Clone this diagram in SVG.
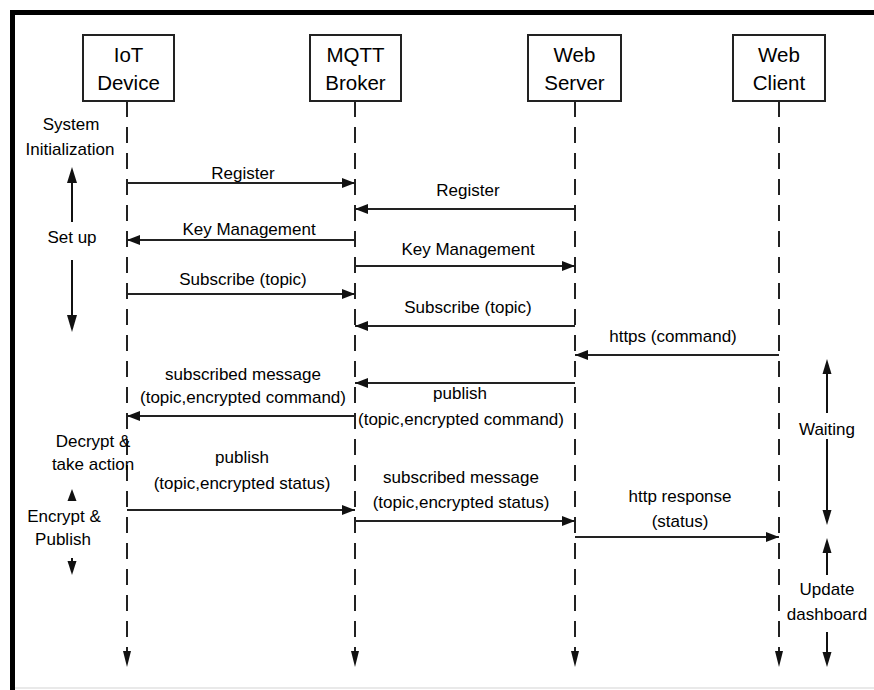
<svg xmlns="http://www.w3.org/2000/svg" width="874" height="690" viewBox="0 0 874 690">
  <style>
    text { font-family: "Liberation Sans", Arial, sans-serif; fill: #000; text-anchor: middle; }
    .node-label { font-size: 20.5px; }
    .label { font-size: 17px; }
    .box { fill: #fff; stroke: #222; stroke-width: 2; }
    .lifeline { fill: none; stroke: #222; stroke-width: 2; stroke-dasharray: 16 10; }
    .msg { fill: none; stroke: #222; stroke-width: 2; marker-end: url(#head); }
    .phase { fill: none; stroke: #111; stroke-width: 2; }
    .tri { fill: #111; }
  </style>
  <defs>
    <marker id="head" viewBox="0 0 13 10" refX="13" refY="5" markerWidth="13" markerHeight="10" markerUnits="userSpaceOnUse" orient="auto">
      <path d="M0,0 L13,5 L0,10 z" fill="#111"/>
    </marker>
  </defs>

  <!-- page background and frame -->
  <rect x="0" y="0" width="874" height="690" fill="#fff"/>
  <rect x="10" y="10" width="864" height="5" fill="#000"/>
  <rect x="10" y="10" width="5" height="680" fill="#000"/>
  <line x1="15" y1="688" x2="874" y2="688" stroke="#e2e2e2" stroke-width="1.5"/>

  <!-- lifelines -->
  <g id="lifelines">
    <line class="lifeline" x1="127" y1="101" x2="127" y2="652"/>
    <line class="lifeline" x1="355" y1="101" x2="355" y2="652"/>
    <line class="lifeline" x1="575" y1="101" x2="575" y2="652"/>
    <line class="lifeline" x1="779" y1="101" x2="779" y2="652"/>
    <path class="tri" d="M123,651 L131,651 L127,667 z"/>
    <path class="tri" d="M351,651 L359,651 L355,667 z"/>
    <path class="tri" d="M571,651 L579,651 L575,667 z"/>
    <path class="tri" d="M775,651 L783,651 L779,667 z"/>
  </g>

  <!-- participants -->
  <g id="iot-device">
    <rect class="box" x="83" y="35" width="91" height="66"/>
    <text class="node-label" x="128.5" y="62">IoT</text>
    <text class="node-label" x="128.5" y="90">Device</text>
  </g>
  <g id="mqtt-broker">
    <rect class="box" x="310" y="35" width="91" height="66"/>
    <text class="node-label" x="355.5" y="62">MQTT</text>
    <text class="node-label" x="355.5" y="90">Broker</text>
  </g>
  <g id="web-server">
    <rect class="box" x="528" y="35" width="93" height="66"/>
    <text class="node-label" x="574.5" y="62">Web</text>
    <text class="node-label" x="574.5" y="90">Server</text>
  </g>
  <g id="web-client">
    <rect class="box" x="733" y="35" width="92" height="66"/>
    <text class="node-label" x="779" y="62">Web</text>
    <text class="node-label" x="779" y="90">Client</text>
  </g>

  <!-- messages -->
  <g id="connectors">
    <line class="msg" x1="127" y1="183" x2="355" y2="183"/>
    <text class="label" x="243" y="179">Register</text>

    <line class="msg" x1="575" y1="209" x2="355" y2="209"/>
    <text class="label" x="468" y="196">Register</text>

    <line class="msg" x1="355" y1="240" x2="127" y2="240"/>
    <text class="label" x="249" y="235">Key Management</text>

    <line class="msg" x1="355" y1="266" x2="575" y2="266"/>
    <text class="label" x="468" y="255">Key Management</text>

    <line class="msg" x1="127" y1="294" x2="355" y2="294"/>
    <text class="label" x="243" y="285">Subscribe (topic)</text>

    <line class="msg" x1="575" y1="326" x2="355" y2="326"/>
    <text class="label" x="468" y="313">Subscribe (topic)</text>

    <line class="msg" x1="779" y1="355" x2="575" y2="355"/>
    <text class="label" x="673" y="342">https (command)</text>

    <line class="msg" x1="575" y1="383" x2="355" y2="383"/>
    <text class="label" x="460" y="399">publish</text>
    <text class="label" x="461" y="425">(topic,encrypted command)</text>

    <line class="msg" x1="355" y1="416" x2="127" y2="416"/>
    <text class="label" x="243" y="380">subscribed message</text>
    <text class="label" x="243" y="403">(topic,encrypted command)</text>

    <line class="msg" x1="127" y1="510" x2="355" y2="510"/>
    <text class="label" x="242" y="463">publish</text>
    <text class="label" x="242" y="489">(topic,encrypted status)</text>

    <line class="msg" x1="355" y1="521" x2="575" y2="521"/>
    <text class="label" x="461" y="483">subscribed message</text>
    <text class="label" x="461" y="508">(topic,encrypted status)</text>

    <line class="msg" x1="575" y1="537" x2="779" y2="537"/>
    <text class="label" x="680" y="502">http response</text>
    <text class="label" x="680" y="527">(status)</text>
  </g>

  <!-- phase annotations, left -->
  <g id="phase-setup">
    <text class="label" x="71" y="130">System</text>
    <text class="label" x="70" y="155">Initialization</text>
    <line class="phase" x1="72" y1="180" x2="72" y2="222"/>
    <path class="tri" d="M72,167 L77,183 L67,183 z"/>
    <text class="label" x="72" y="243">Set up</text>
    <line class="phase" x1="72" y1="260" x2="72" y2="318"/>
    <path class="tri" d="M67,315 L77,315 L72,332 z"/>
  </g>
  <g id="phase-device">
    <text class="label" x="93" y="447">Decrypt &amp;</text>
    <text class="label" x="93" y="470">take action</text>
    <path class="tri" d="M72,489 L76.5,501 L67.5,501 z"/>
    <text class="label" x="64" y="522">Encrypt &amp;</text>
    <text class="label" x="63" y="545">Publish</text>
    <line class="phase" x1="72" y1="558" x2="72" y2="563"/>
    <path class="tri" d="M67.5,561 L76.5,561 L72,575 z"/>
  </g>

  <!-- phase annotations, right -->
  <g id="phase-waiting">
    <line class="phase" x1="827" y1="370" x2="827" y2="413"/>
    <path class="tri" d="M827,359 L831.5,374 L822.5,374 z"/>
    <text class="label" x="827" y="435">Waiting</text>
    <line class="phase" x1="827" y1="439" x2="827" y2="512"/>
    <path class="tri" d="M822.5,510 L831.5,510 L827,525 z"/>
  </g>
  <g id="phase-update">
    <line class="phase" x1="827" y1="550" x2="827" y2="575"/>
    <path class="tri" d="M827,538 L831.5,553 L822.5,553 z"/>
    <text class="label" x="827" y="595">Update</text>
    <text class="label" x="827" y="620">dashboard</text>
    <line class="phase" x1="827" y1="632" x2="827" y2="654"/>
    <path class="tri" d="M822.5,652 L831.5,652 L827,667 z"/>
  </g>
</svg>
